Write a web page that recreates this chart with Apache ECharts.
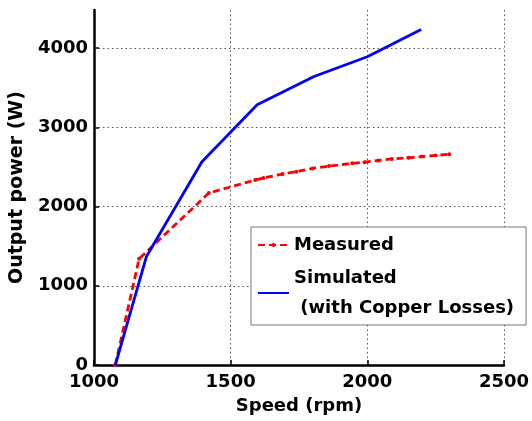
<!DOCTYPE html>
<html>
<head>
<meta charset="utf-8">
<script src="https://cdn.jsdelivr.net/npm/echarts@6/dist/echarts.min.js"></script>
<style>html,body{margin:0;padding:0;background:#fff}#c{width:532px;height:421px}</style>
</head>
<body>
<div id="c"></div>
<script>
const measuredSpeed = [1078, 1165, 1420, 1590, 1620, 1690, 1740, 1800, 1860, 1945, 1990, 2040, 2090, 2150, 2200, 2250, 2300];
const measuredPower = [0, 1340, 2170, 2335, 2360, 2410, 2440, 2480, 2510, 2545, 2560, 2580, 2600, 2615, 2630, 2645, 2660];
const simulatedSpeed = [1078, 1192, 1395, 1597, 1805, 2000, 2197];
const simulatedPower = [0, 1370, 2565, 3285, 3640, 3890, 4235];
const xTicks = [1000, 1500, 2000, 2500];
const yTicks = [0, 1000, 2000, 3000, 4000];
const seriesNames = ['Measured', 'Simulated\n (with Copper Losses)'];

const font = 'DejaVu Sans';
const chart = echarts.init(document.getElementById('c'), null, {renderer: 'canvas'});
chart.setOption({
  animation: false,
  backgroundColor: '#fff',
  grid: {left: 93, right: 27, top: 10, bottom: 56, containLabel: false},
  xAxis: {
    type: 'value', min: 1000, max: 2500, interval: 500,
    name: 'Speed (rpm)', nameLocation: 'middle', nameGap: 32,
    nameTextStyle: {fontFamily: font, fontWeight: 'bold', fontSize: 18, color: '#000'},
    axisLine: {show: true, lineStyle: {color: '#000', width: 2.5}},
    axisTick: {show: true, inside: true, length: 5, lineStyle: {color: '#000', width: 1.5}},
    axisLabel: {fontFamily: font, fontWeight: 'bold', fontSize: 18, color: '#000', margin: 8,
      formatter: v => xTicks.includes(v) ? String(v) : ''},
    splitLine: {show: true, lineStyle: {color: '#555', type: [1.5, 3], width: 1}}
  },
  yAxis: {
    type: 'value', min: 0, max: 4480, interval: 1000,
    name: 'Output power (W)', nameLocation: 'middle', nameGap: 53,
    nameTextStyle: {fontFamily: font, fontWeight: 'bold', fontSize: 19, color: '#000'},
    axisLine: {show: true, lineStyle: {color: '#000', width: 2.5}},
    axisTick: {show: true, inside: true, length: 5, lineStyle: {color: '#000', width: 1.5}},
    axisLabel: {fontFamily: font, fontWeight: 'bold', fontSize: 18, color: '#000', margin: 6,
      showMaxLabel: false,
      formatter: v => yTicks.includes(v) ? String(v) : ''},
    splitLine: {show: true, showMaxLine: false, lineStyle: {color: '#555', type: [1.5, 3], width: 1}}
  },
  legend: {
    orient: 'vertical', left: 251, top: 227,
    backgroundColor: '#fff', borderColor: '#777', borderWidth: 1,
    padding: [3, 12, 2, 6], itemGap: 3, itemWidth: 31, itemHeight: 5,
    textStyle: {fontFamily: font, fontWeight: 'bold', fontSize: 18, color: '#000', lineHeight: 30},
    data: [
      {name: seriesNames[0]},
      {name: seriesNames[1], itemStyle: {opacity: 0}}
    ]
  },
  series: [
    {
      name: seriesNames[0], type: 'line',
      data: measuredSpeed.map((s, i) => [s, measuredPower[i]]),
      lineStyle: {color: '#ff0000', width: 2.8, type: [7, 4]},
      itemStyle: {color: '#ff0000'},
      symbol: 'circle', symbolSize: 4, showSymbol: true, z: 3
    },
    {
      name: seriesNames[1], type: 'line',
      data: simulatedSpeed.map((s, i) => [s, simulatedPower[i]]),
      lineStyle: {color: '#0000ff', width: 2.8},
      itemStyle: {color: '#0000ff'},
      symbol: 'none', z: 4
    }
  ]
});
</script>
</body>
</html>
